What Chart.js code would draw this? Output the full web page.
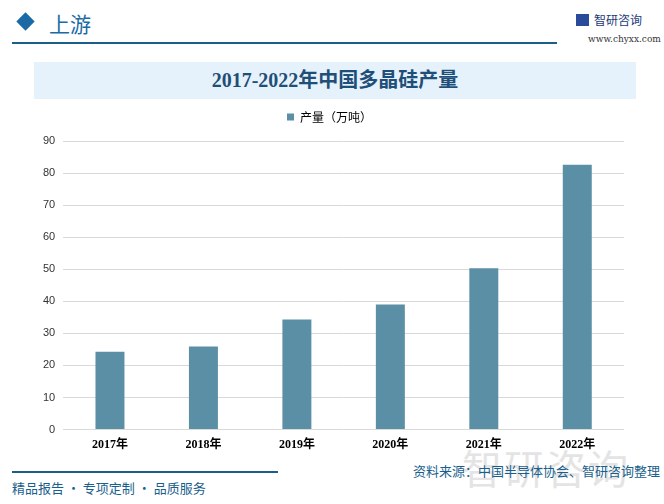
<!DOCTYPE html>
<html>
<head>
<meta charset="utf-8">
<script src="https://cdn.jsdelivr.net/npm/chart.js@4/dist/chart.umd.min.js"></script>
<style>
  body { margin: 0; background: #fff; font-family: "Noto Sans CJK SC", sans-serif; }
  #page { position: relative; width: 664px; height: 504px; overflow: hidden; }
  .abs { position: absolute; }
  #diamond { left: 19px; top: 15px; width: 13px; height: 13px; background: #1a6aa5; transform: rotate(45deg); }
  #section { left: 49px; top: 8px; font-size: 21px; color: #1a6aa5; font-family: "Liberation Serif", "Noto Sans CJK SC", serif; }
  #topline { left: 12px; top: 42px; width: 545px; height: 1.5px; background: #1a5f8c; }
  #brand { left: 594px; top: 11px; font-size: 12px; color: #1a3a7a; }
  #logo { left: 576px; top: 14px; width: 13px; height: 12px; background: #2a4a9a; }
  #url { left: 588px; top: 34px; font-size: 9px; color: #333; font-family: "DejaVu Serif", serif; }
  #band { left: 34px; top: 62px; width: 602px; height: 37px; background: #e6f2fb; }
  #title { left: 34px; top: 62px; width: 602px; line-height: 37px; text-align: center; font-size: 20px; font-weight: bold; color: #1f4e79; font-family: "Liberation Serif", "Noto Sans CJK SC", serif; }
  #botline { left: 12px; top: 471px; width: 266px; height: 1.5px; background: #1a5f8c; }
  #slogan { left: 12px; top: 478px; font-size: 13px; color: #1a5f8c; }
  #source { right: 4px; top: 461px; font-size: 13px; color: #1a5f8c; }
  #wm { left: 462px; top: 438px; font-size: 40px; color: #e4e4e4; letter-spacing: 2px; }
  #wrap { left: 0; top: 0; width: 664px; height: 504px; }
</style>
</head>
<body>
<div id="page">
  <div class="abs" id="wm">智研咨询</div>
  <div class="abs" id="diamond"></div>
  <div class="abs" id="section">上游</div>
  <div class="abs" id="topline"></div>
  <div class="abs" id="logo"></div>
  <div class="abs" id="brand">智研咨询</div>
  <div class="abs" id="url">www.chyxx.com</div>
  <div class="abs" id="band"></div>
  <div class="abs" id="title">2017-2022年中国多晶硅产量</div>
  <div class="abs" id="botline"></div>
  <div class="abs" id="slogan">精品报告 · 专项定制 · 品质服务</div>
  <div class="abs" id="source">资料来源：中国半导体协会、智研咨询整理</div>
  <div class="abs" id="wrap"><canvas id="polyChart"></canvas></div>
</div>
<script>
const years = ['2017年', '2018年', '2019年', '2020年', '2021年', '2022年'];
const output = [24.3, 25.9, 34.3, 39.0, 50.3, 82.6];
const seriesName = '产量（万吨）';

// a bit more room under the legend
const legendGap = {
    id: 'legendGap',
    beforeInit(chart) {
        const origFit = chart.legend.fit;
        chart.legend.fit = function () {
            origFit.bind(chart.legend)();
            this.height += 8;
        };
    }
};

const ctx = document.getElementById('polyChart').getContext('2d');
const chart = new Chart(ctx, {
    type: 'bar',
    data: {
        labels: years,
        datasets: [{
            label: seriesName,
            data: output,
            backgroundColor: '#5b8fa5',
            categoryPercentage: 1,
            barPercentage: 0.31
        }]
    },
    plugins: [legendGap],
    options: {
        responsive: true,
        maintainAspectRatio: false,
        animation: false,
        layout: { padding: { top: 101, left: 35, right: 40, bottom: 52 } },
        plugins: {
            tooltip: { enabled: false },
            legend: {
                labels: {
                    boxWidth: 7, boxHeight: 7, padding: 10,
                    color: '#000',
                    font: { size: 12, family: '"Noto Sans CJK SC", sans-serif' }
                }
            }
        },
        scales: {
            y: {
                min: 0, max: 90,
                ticks: { stepSize: 10, color: '#333', padding: 8, font: { size: 11, family: '"Liberation Sans", Arial, sans-serif' } },
                grid: { color: '#d9d9d9', drawTicks: false },
                border: { display: false }
            },
            x: {
                ticks: { color: '#000', padding: 0, font: { size: 12, weight: 'bold', family: '"Liberation Serif", "Noto Sans CJK SC", serif' } },
                grid: { display: false },
                border: { display: false }
            }
        }
    }
});
</script>
</body>
</html>
